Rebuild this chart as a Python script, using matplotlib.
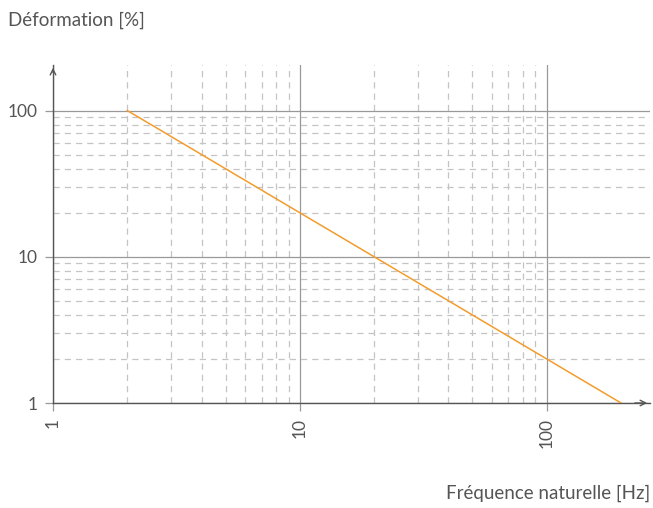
import matplotlib
matplotlib.use("Agg")
import matplotlib.pyplot as plt
from matplotlib.ticker import FixedLocator, NullFormatter

# data: deformation [%] vs natural frequency [Hz]
FREQ = [2, 200]
DEFORMATION = [100, 1]

X_MAJOR = [1, 10, 100]
Y_MAJOR = [1, 10, 100]
X_MINOR = [2, 3, 4, 5, 6, 7, 8, 9, 20, 30, 40, 50, 60, 70, 80, 90]
Y_MINOR = [2, 3, 4, 5, 6, 7, 8, 9, 20, 30, 40, 50, 60, 70, 80, 90]
X_LABELS = ["1", "10", "100"]
Y_LABELS = ["1", "10", "100"]

plt.rcParams["font.family"] = ["Lato", "DejaVu Sans"]
TEXT = "#555555"
AXIS = "#555555"

fig = plt.figure(figsize=(6.53, 5.08), dpi=100)
ax = fig.add_axes([53 / 653, 105 / 508, (650 - 53) / 653, (403 - 65) / 508])

ax.plot(FREQ, DEFORMATION, color="#f39c2c", linewidth=1.1, zorder=3)
ax.set_xscale("log")
ax.set_yscale("log")
ax.set_xlim(1, 262)
ax.set_ylim(1, 205)

ax.xaxis.set_major_locator(FixedLocator(X_MAJOR))
ax.yaxis.set_major_locator(FixedLocator(Y_MAJOR))
ax.xaxis.set_minor_locator(FixedLocator(X_MINOR))
ax.yaxis.set_minor_locator(FixedLocator(Y_MINOR))
ax.xaxis.set_minor_formatter(NullFormatter())
ax.yaxis.set_minor_formatter(NullFormatter())
ax.set_xticklabels(X_LABELS, rotation=90)
ax.set_yticklabels(Y_LABELS)

ax.grid(True, which="major", color="#999999", linewidth=0.9, linestyle="-")
ax.grid(True, which="minor", color="#c4c4c4", linewidth=0.9, linestyle=(0, (5, 4)))
ax.set_axisbelow(True)

ax.tick_params(which="major", length=6, width=0.9, color="#999999",
               labelsize=12.5, labelcolor=TEXT, pad=5)
ax.tick_params(which="minor", length=0)

for s in ["top", "right"]:
    ax.spines[s].set_visible(False)
for s in ["left", "bottom"]:
    ax.spines[s].set_color(AXIS)
    ax.spines[s].set_linewidth(1.0)

# arrow heads on the axes
ax.annotate("", xy=(0, 1.0), xycoords="axes fraction", xytext=(0, 0.97),
            arrowprops=dict(arrowstyle="->", color=AXIS, lw=1.0))
ax.annotate("", xy=(1.0, 0), xycoords="axes fraction", xytext=(0.97, 0),
            arrowprops=dict(arrowstyle="->", color=AXIS, lw=1.0))

fig.text(8 / 653, 1 - 20 / 508, "Déformation [%]", fontsize=13.5, color=TEXT,
         ha="left", va="center")
fig.text(650 / 653, 1 - 493 / 508, "Fréquence naturelle [Hz]", fontsize=13.5,
         color=TEXT, ha="right", va="center")

fig.savefig("out.png", dpi=100)
